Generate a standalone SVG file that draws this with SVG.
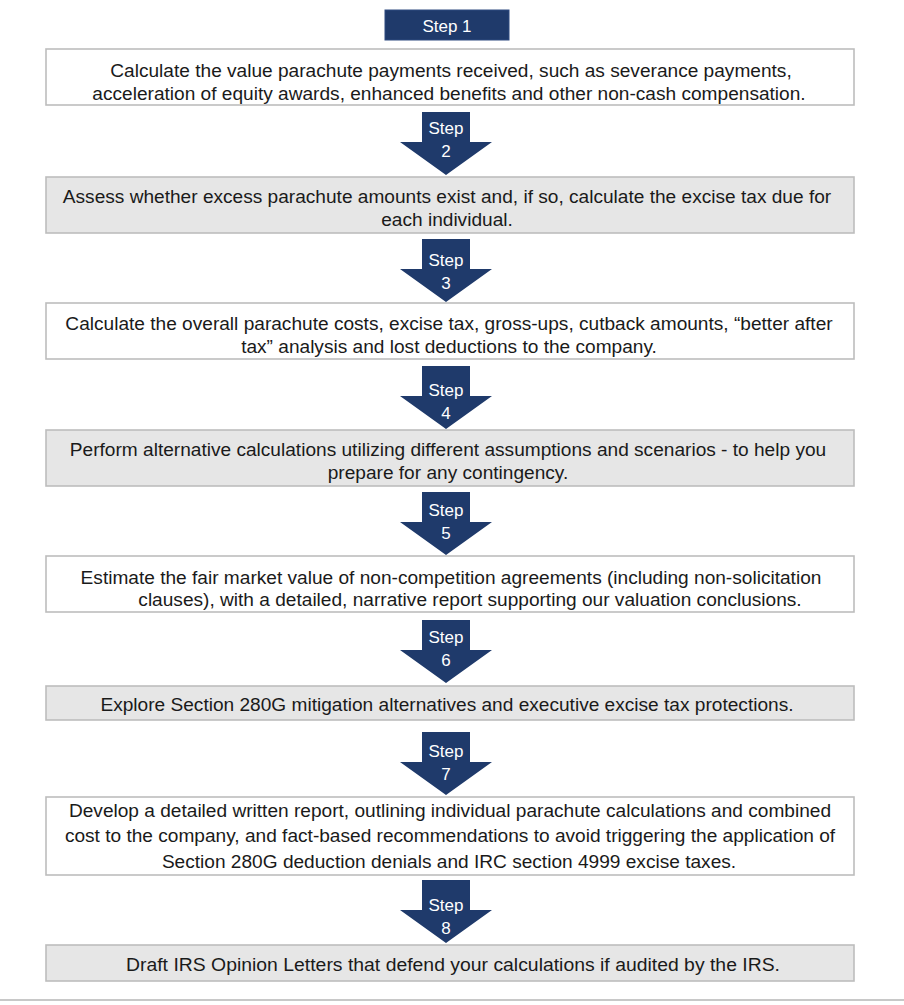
<svg xmlns="http://www.w3.org/2000/svg" width="904" height="1005" viewBox="0 0 904 1005">
<defs>
<style>
.box{stroke:#bdbdbd;stroke-width:1.6}
.w{fill:#ffffff}
.g{fill:#e6e6e6}
.t{font-family:"Liberation Sans",Arial,sans-serif;font-size:19.1px;fill:#1a1a1a;text-anchor:middle}
.st{font-family:"Liberation Sans",Arial,sans-serif;font-size:17px;fill:#ffffff;text-anchor:middle}
.arr{fill:#1f3a6b}
</style>
<path id="arrow" d="M422,0 H470 V30 H492 L446,63 L400,30 H422 Z"/>
</defs>
<rect width="904" height="1005" fill="#ffffff"/>
<line x1="0" y1="1000" x2="904" y2="1000" stroke="#c8c8c8" stroke-width="2"/>

<g id="connectors">
<g id="arrow2"><use href="#arrow" class="arr" y="112"/><text class="st" x="446" y="134">Step</text><text class="st" x="446" y="157">2</text></g>
<g id="arrow3"><use href="#arrow" class="arr" y="239"/><text class="st" x="446" y="266">Step</text><text class="st" x="446" y="289">3</text></g>
<g id="arrow4"><use href="#arrow" class="arr" y="366"/><text class="st" x="446" y="396">Step</text><text class="st" x="446" y="419">4</text></g>
<g id="arrow5"><use href="#arrow" class="arr" y="492"/><text class="st" x="446" y="516">Step</text><text class="st" x="446" y="539">5</text></g>
<g id="arrow6"><use href="#arrow" class="arr" y="620"/><text class="st" x="446" y="643">Step</text><text class="st" x="446" y="666">6</text></g>
<g id="arrow7"><use href="#arrow" class="arr" y="732"/><text class="st" x="446" y="757">Step</text><text class="st" x="446" y="780">7</text></g>
<g id="arrow8"><use href="#arrow" class="arr" y="880"/><text class="st" x="446" y="911">Step</text><text class="st" x="446" y="934">8</text></g>
</g>

<g id="step1">
<rect x="385" y="10" width="124" height="30" fill="#1f3a6b" stroke="#2e4a80" stroke-width="1"/>
<text class="st" x="447" y="32">Step 1</text>
</g>

<g id="box1">
<rect class="box w" x="46" y="49" width="808" height="56"/>
<text class="t" x="451" y="77">Calculate the value parachute payments received, such as severance payments,</text>
<text class="t" x="449" y="100">acceleration of equity awards, enhanced benefits and other non-cash compensation.</text>
</g>

<g id="box2">
<rect class="box g" x="46" y="177" width="808" height="56"/>
<text class="t" x="447" y="203">Assess whether excess parachute amounts exist and, if so, calculate the excise tax due for</text>
<text class="t" x="447" y="226">each individual.</text>
</g>

<g id="box3">
<rect class="box w" x="46" y="303" width="808" height="56"/>
<text class="t" x="449" y="330">Calculate the overall parachute costs, excise tax, gross-ups, cutback amounts, “better after</text>
<text class="t" x="449" y="353">tax” analysis and lost deductions to the company.</text>
</g>

<g id="box4">
<rect class="box g" x="46" y="430" width="808" height="56"/>
<text class="t" x="448" y="456">Perform alternative calculations utilizing different assumptions and scenarios - to help you</text>
<text class="t" x="448" y="479">prepare for any contingency.</text>
</g>

<g id="box5">
<rect class="box w" x="46" y="556" width="808" height="56"/>
<text class="t" x="451" y="584">Estimate the fair market value of non-competition agreements (including non-solicitation</text>
<text class="t" x="470" y="606">clauses), with a detailed, narrative report supporting our valuation conclusions.</text>
</g>

<g id="box6">
<rect class="box g" x="46" y="686" width="808" height="34"/>
<text class="t" x="447" y="711">Explore Section 280G mitigation alternatives and executive excise tax protections.</text>
</g>

<g id="box7">
<rect class="box w" x="46" y="797" width="808" height="78"/>
<text class="t" x="450" y="817">Develop a detailed written report, outlining individual parachute calculations and combined</text>
<text class="t" x="450" y="842">cost to the company, and fact-based recommendations to avoid triggering the application of</text>
<text class="t" x="449" y="868">Section 280G deduction denials and IRC section 4999 excise taxes.</text>
</g>

<g id="box8">
<rect class="box g" x="46" y="945" width="808" height="36"/>
<text class="t" x="453" y="971" textLength="654" lengthAdjust="spacingAndGlyphs">Draft IRS Opinion Letters that defend your calculations if audited by the IRS.</text>
</g>
</svg>
